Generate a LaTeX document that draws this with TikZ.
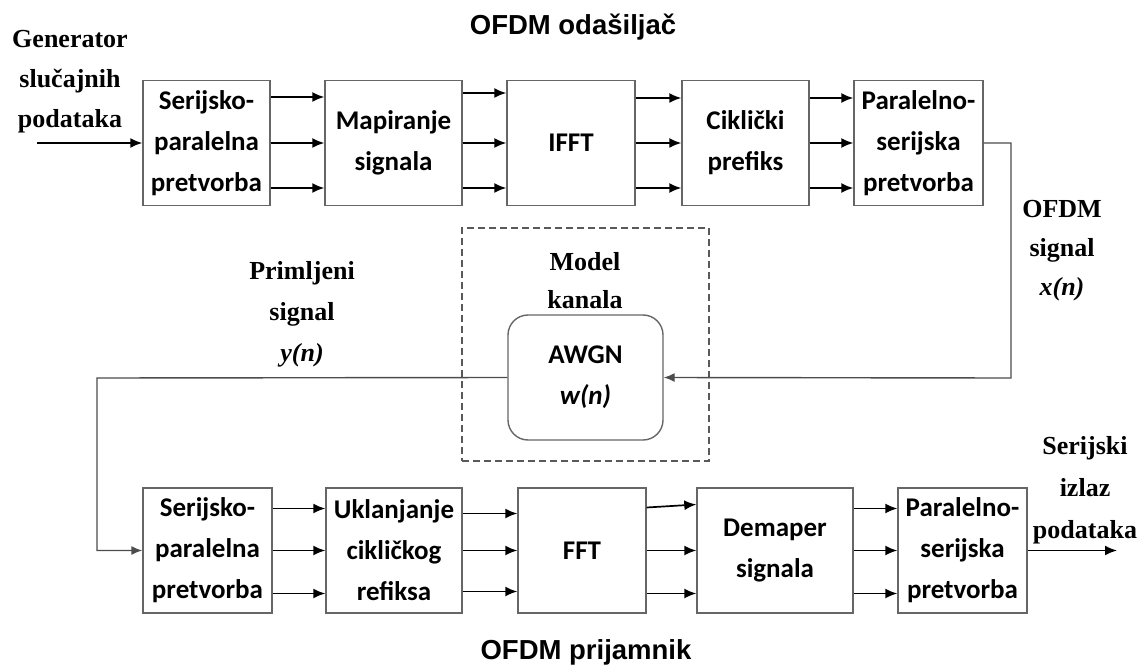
\documentclass[tikz,border=0pt]{standalone}
\usepackage{fontspec}
\setmainfont{Liberation Serif}
\newfontfamily\blockfont{Carlito}
\newfontfamily\headfont{Liberation Sans}
\usetikzlibrary{arrows.meta}

\tikzset{
  block/.style={draw=black!60, line width=1.4pt, inner sep=0pt, align=center,
    minimum height=125pt, font=\blockfont\bfseries\fontsize{27}{41}\selectfont},
  arr/.style={-{Latex[length=12pt,width=10pt]}, line width=1.7pt},
  link/.style={-{Latex[length=11pt,width=9pt]}, draw=black!70, line width=1.4pt},
  lbl/.style={align=center, font=\bfseries\fontsize{26}{40}\selectfont},
  head/.style={font=\headfont\bfseries\fontsize{27.5}{33}\selectfont},
}

\begin{document}
\begin{tikzpicture}[x=1pt,y=-1pt]
  \useasboundingbox (0,0) rectangle (1142,668);

  % odasiljac
  \node[head] (titletx) at (573,27) {OFDM odašiljač};
  \node[block, minimum width=127pt] (sp1) at (206.5,143) {Serijsko-\\paralelna\\pretvorba};
  \node[block, minimum width=137pt] (map) at (393.5,143) {Mapiranje\\signala};
  \node[block, minimum width=128pt] (ifft) at (571,143) {IFFT};
  \node[block, minimum width=127pt] (cp) at (745.5,143) {Ciklički\\prefiks};
  \node[block, minimum width=129pt] (ps1) at (918.5,143) {Paralelno-\\serijska\\pretvorba};

  \node[lbl] (gen) at (70,82) {Generator\\slučajnih\\podataka};
  \coordinate (in) at (37,143);
  \draw[arr] (in) -- (sp1.west);

  \draw[arr] ([yshift=46pt]sp1.east) -- ([yshift=46pt]map.west);
  \draw[arr] (sp1.east) -- (map.west);
  \draw[arr] ([yshift=-45pt]sp1.east) -- ([yshift=-45pt]map.west);
  \draw[arr] ([yshift=50pt]map.east) -- ([yshift=50pt]ifft.west);
  \draw[arr] (map.east) -- (ifft.west);
  \draw[arr] ([yshift=-45pt]map.east) -- ([yshift=-45pt]ifft.west);
  \draw[arr] ([yshift=45pt]ifft.east) -- ([yshift=45pt]cp.west);
  \draw[arr] (ifft.east) -- (cp.west);
  \draw[arr] ([yshift=-45pt]ifft.east) -- ([yshift=-45pt]cp.west);
  \draw[arr] ([yshift=45pt]cp.east) -- ([yshift=45pt]ps1.west);
  \draw[arr] (cp.east) -- (ps1.west);
  \draw[arr] ([yshift=-45pt]cp.east) -- ([yshift=-45pt]ps1.west);

  % kanal
  \node[draw=black!65, dash pattern=on 7pt off 4pt, line width=1.3pt, minimum width=247pt, minimum height=233pt] (chan) at (585.5,344.5) {};
  \node[lbl, font=\bfseries\fontsize{26}{38}\selectfont] (model) at (585,281) {Model\\kanala};
  \node[block, rounded corners=20pt, minimum width=155pt] (awgn) at (585.5,377.5)
    {AWGN\\{\itshape w(n)}};
  \node[lbl, font=\bfseries\fontsize{26}{39}\selectfont] (xsig) at (1062,251) {OFDM\\signal\\{\itshape x(n)}};
  \node[lbl, font=\bfseries\fontsize{26}{41}\selectfont] (ysig) at (302,314) {Primljeni\\signal\\{\itshape y(n)}};

  % prijamnik
  \node[block, minimum width=129pt] (sp2) at (207.5,550.5) {Serijsko-\\paralelna\\pretvorba};
  \node[block, minimum width=136pt] (rcp) at (394,550.5) {Uklanjanje\\cikličkog\\refiksa};
  \node[block, minimum width=128pt] (fft) at (582,550.5) {FFT};
  \node[block, minimum width=156pt] (demap) at (775,550.5) {Demaper\\signala};
  \node[block, minimum width=129pt] (ps2) at (962.5,550.5) {Paralelno-\\serijska\\pretvorba};
  \node[head] (titlerx) at (586,652) {OFDM prijamnik};

  \coordinate (rt) at (1011,378);
  \coordinate (lt) at (97,378);
  \draw[link] (ps1.east) -| (rt) -- (awgn.east);
  \draw[link] (awgn.west) -- (lt) |- (sp2.west);

  \draw[arr] ([yshift=42pt]sp2.east) -- ([yshift=42pt]rcp.west);
  \draw[arr] (sp2.east) -- (rcp.west);
  \draw[arr] ([yshift=-43pt]sp2.east) -- ([yshift=-43pt]rcp.west);
  \draw[arr] ([yshift=37pt]rcp.east) -- ([yshift=37pt]fft.west);
  \draw[arr] (rcp.east) -- (fft.west);
  \draw[arr] ([yshift=-41pt]rcp.east) -- ([yshift=-41pt]fft.west);
  \draw[arr] ([yshift=43pt]fft.east) -- ([yshift=46pt]demap.west);
  \draw[arr] (fft.east) -- (demap.west);
  \draw[arr] ([yshift=-43pt]fft.east) -- ([yshift=-43pt]demap.west);
  \draw[arr] ([yshift=42pt]demap.east) -- ([yshift=42pt]ps2.west);
  \draw[arr] (demap.east) -- (ps2.west);
  \draw[arr] ([yshift=-43pt]demap.east) -- ([yshift=-43pt]ps2.west);

  \node[lbl, font=\bfseries\fontsize{26}{42}\selectfont] (outl) at (1085,490) {Serijski\\izlaz\\podataka};
  \coordinate (out) at (1117,550.5);
  \draw[arr] (ps2.east) -- (out);
\end{tikzpicture}
\end{document}
